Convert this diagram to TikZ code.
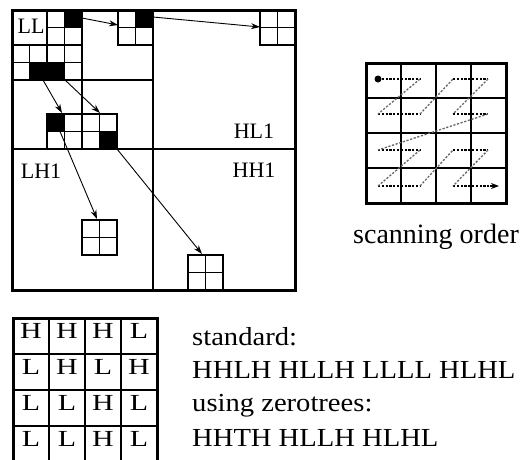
\documentclass[tikz,border=0pt]{standalone}
\usepackage{fontspec}
\setmainfont{Liberation Serif}
\newfontfamily\widefont{Liberation Serif}[FakeStretch=1.1]
\newfontfamily\tabfont{Liberation Serif}[FakeStretch=1.3]
\usetikzlibrary{arrows.meta}
\newcommand\qblock[2]{%
  \draw[thinl] (#1,#2) rectangle ++(35,35);
  \draw[thinl] (#1+17.5,#2) -- ++(0,35) (#1,#2+17.5) -- ++(35,0);}
\begin{document}
\begin{tikzpicture}[x=1pt,y=-1pt,
  outerl/.style={line width=3pt},
  midl/.style={line width=2.6pt},
  subl/.style={line width=1.6pt},
  thinl/.style={line width=1.2pt},
  conn/.style={line width=0.9pt,-{Stealth[length=9pt,width=6pt]}},
  scan/.style={line width=1.7pt,dash pattern=on 2.2pt off 1.6pt},
  lbl/.style={font=\fontsize{22}{22}\selectfont,anchor=base,inner sep=0pt},
  tl/.style={font=\tabfont\fontsize{23}{23}\selectfont,inner sep=0pt},
  bt/.style={font=\widefont\fontsize{26}{26}\selectfont,anchor=base west,inner sep=0pt}]
\useasboundingbox (0,0) rectangle (521,459);
% ---------- black cells ----------
\fill (64.5,10) rectangle (82,27.5);
\fill (29.5,62.5) rectangle (47,80);
\fill (47,62.5) rectangle (64.5,80);
\fill (135.5,10) rectangle (153,27.5);
\fill (47,114) rectangle (64.5,131.5);
\fill (99.5,131.5) rectangle (117,149);
% ---------- cell lines of LL quadrant ----------
\draw[thinl] (29.5,45) -- (29.5,80) (64.5,10) -- (64.5,80)
  (47,27.5) -- (82,27.5) (12,62.5) -- (82,62.5);
\draw[subl] (47,10) -- (47,80) (12,45) -- (82,45);
% ---------- 2x2 blocks ----------
\qblock{118}{10}
\qblock{260}{10}
\qblock{47}{114}
\qblock{82}{114}
\qblock{82}{220}
\qblock{188}{255}
% ---------- main lines ----------
\draw[midl] (82,10) -- (82,149) (12,80) -- (153,80);
\draw[midl] (153,10) -- (153,290) (12,149) -- (295,149);
\draw[outerl] (12,10) rectangle (295,290);
% ---------- labels ----------
\node[lbl] (ll) at (31,33) {LL};
\node[lbl] (hl1) at (254,138) {HL1};
\node[lbl] (lh1) at (41,178) {LH1};
\node[lbl] (hh1) at (254,177) {HH1};
% ---------- connectors ----------
\coordinate (s1) at (82,18);   \coordinate (e1) at (118,25);
\coordinate (s2) at (153,17);  \coordinate (e2) at (260,27);
\coordinate (s3) at (43,80);   \coordinate (e3) at (62,113);
\coordinate (s4) at (65,80);   \coordinate (e4) at (100,113);
\coordinate (s5) at (56,122);  \coordinate (e5) at (97,219);
\coordinate (s6) at (117,149); \coordinate (e6) at (202,254);
\foreach \i in {1,...,6} {\draw[conn] (s\i) -- (e\i);}
% ---------- scanning order grid ----------
\draw[thinl] (401,133) -- (401,203) (471,63) -- (471,203)
  (436,98) -- (506,98) (366,168) -- (506,168);
\draw[midl] (436,63) -- (436,203) (366,133) -- (506,133)
  (401,63) -- (401,133) (366,98) -- (436,98);
\draw[outerl] (366,63) rectangle (506,203);
\coordinate (p1) at (378,79);  \coordinate (p2) at (420,79);
\coordinate (p3) at (378,114); \coordinate (p4) at (420,114);
\coordinate (p5) at (453,79);  \coordinate (p6) at (488,79);
\coordinate (p7) at (453,114); \coordinate (p8) at (488,114);
\coordinate (p9) at (378,150); \coordinate (p10) at (420,150);
\coordinate (p11) at (378,186);\coordinate (p12) at (420,186);
\coordinate (p13) at (453,150);\coordinate (p14) at (488,150);
\coordinate (p15) at (453,186);\coordinate (p16) at (490,186);
\coordinate (p17) at (499,186);
\draw[scan] (p1) -- (p2) (p3) -- (p4) (p5) -- (p6) (p7) -- (p8)
  (p9) -- (p10) (p11) -- (p12) (p13) -- (p14) (p15) -- (p16);
\draw[scan,line width=1.3pt,black!60] (p2) -- (p3) (p4) -- (p5) (p6) -- (p7) (p8) -- (p9)
  (p10) -- (p11) (p12) -- (p13) (p14) -- (p15);
\draw[line width=1.2pt,-{Stealth[length=8pt,width=6pt]}] (p16) -- (p17);
\fill (p1) circle (3.5pt);
\node[font=\fontsize{28}{28}\selectfont,anchor=base west,inner sep=0pt] (so) at (353,243) {scanning order};
% ---------- bottom table ----------
\draw[thinl] (49,390) -- (49,462) (121,318) -- (121,462)
  (85,354) -- (157,354) (13,426) -- (157,426);
\draw[midl] (85,318) -- (85,462) (13,390) -- (157,390)
  (49,318) -- (49,390) (13,354) -- (85,354);
\draw[outerl] (13,318) rectangle (157,462);
\foreach \r/\a/\b/\c/\d in {0/H/H/H/L,1/L/H/L/H,2/L/L/H/L,3/L/L/H/L} {
  \node[tl] (t\r a) at (31,331+36*\r) {\a};
  \node[tl] (t\r b) at (67,331+36*\r) {\b};
  \node[tl] (t\r c) at (103,331+36*\r) {\c};
  \node[tl] (t\r d) at (139,331+36*\r) {\d};
}
\node[bt] (std) at (192,345) {standard:};
\node[bt] (stdc) at (192,378) {HHLH HLLH LLLL HLHL};
\node[bt] (zt) at (192,411) {using zerotrees:};
\node[bt] (ztc) at (192,446) {HHTH HLLH HLHL};
\end{tikzpicture}
\end{document}
